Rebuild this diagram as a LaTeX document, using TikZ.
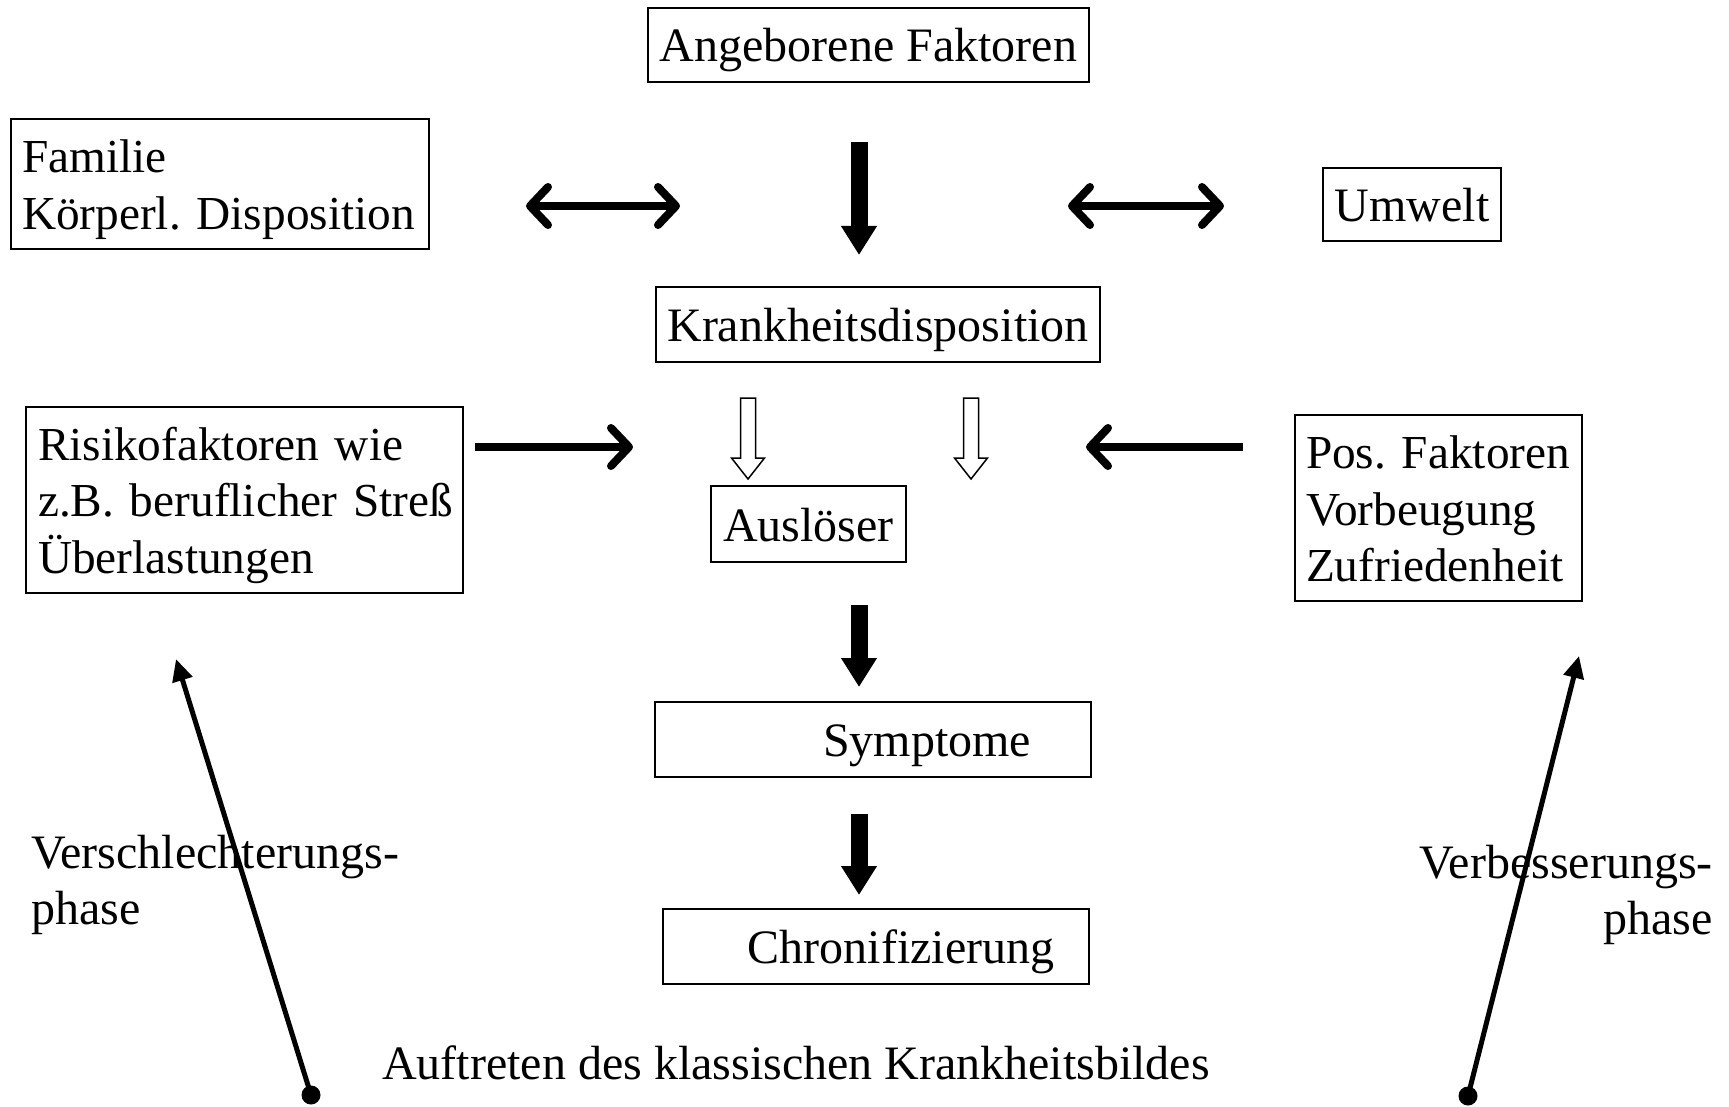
\documentclass[tikz,border=0pt]{standalone}
\usepackage{fontspec}
\setmainfont{Liberation Serif}
\usetikzlibrary{arrows.meta}
\newcommand\mytopstr{\rule{0pt}{44pt}}
\newcommand\mybotstr{\rule[-10pt]{0pt}{10pt}}
\begin{document}
\begin{tikzpicture}[x=1pt,y=-1pt,
  box/.style={draw, line width=1.6pt, inner sep=0pt, font=\fontsize{48}{56.5}\selectfont\frenchspacing},
  boxm/.style={box, align=left, font=\fontsize{47.3}{56.5}\selectfont\frenchspacing},
  one/.style={text height=44pt, text depth=10pt},
  lbl/.style={inner sep=0pt, font=\fontsize{48}{56.5}\selectfont\frenchspacing},
  chevboth/.style={line width=8pt, {Straight Barb[length=18pt,width=38pt,round]}-{Straight Barb[length=18pt,width=38pt,round]}},
  chevone/.style={line width=8pt, -{Straight Barb[length=18pt,width=38pt,round]}},
  bigdown/.style={line width=17pt, -{Triangle[length=29pt,width=34pt]}},
  hollow/.style={draw, line width=1.5pt, fill=white, line join=miter},
  diag/.style={line width=5pt, -{Triangle[length=22pt,width=20pt]}},
  dot/.style={circle, fill=black, inner sep=0pt, minimum size=19pt}
]
\useasboundingbox (0,0) rectangle (1729,1107);

% boxes
\node[box, one, minimum width=441pt, minimum height=74pt] (ang) at (868.5,45) {Angeborene Faktoren};
\node[boxm, minimum width=418pt, minimum height=130pt, text width=396pt] (fam) at (220,184)
  {\mbox{\mytopstr Familie}\\\mbox{Körperl. Disposition\mybotstr}};
\node[box, one, minimum width=178pt, minimum height=73pt] (umw) at (1412,204.5) {Umwelt};
\node[box, one, minimum width=444pt, minimum height=75pt] (kd) at (878,324.5) {Krankheitsdisposition};
\node[boxm, minimum width=437pt, minimum height=186pt, text width=413pt] (risk) at (244.5,500)
  {\mbox{\mytopstr Risikofaktoren wie}\\\mbox{z.B. beruflicher Streß}\\\mbox{Überlastungen\mybotstr}};
\node[box, one, minimum width=195pt, minimum height=76pt] (ausl) at (808.5,524) {Auslöser};
\node[boxm, minimum width=287pt, minimum height=186pt, text width=265pt] (pos) at (1438.5,508)
  {\mbox{\mytopstr Pos. Faktoren}\\\mbox{Vorbeugung}\\\mbox{Zufriedenheit\mybotstr}};
\node[box, one, minimum width=436pt, minimum height=75pt] (sym) at (873,739.5) {\hspace*{108pt}Symptome};
\node[box, one, minimum width=426pt, minimum height=75pt] (chr) at (876,946.5) {\hspace*{50pt}Chronifizierung};

% labels
\node[lbl, anchor=west, align=left] (vs) at (31,885) {Verschlechterungs-\\phase};
\node[lbl, anchor=east, align=right] (vb) at (1713,895) {Verbesserungs-\\phase};
\node[lbl] (auf) at (796,1063) {Auftreten des klassischen Krankheitsbildes};

% coordinates for free-standing arrows
\coordinate (d1a) at (526,206); \coordinate (d1b) at (680,206);
\coordinate (d2a) at (1068,206); \coordinate (d2b) at (1224,206);
\coordinate (t1a) at (859,142); \coordinate (t1b) at (859,255);
\coordinate (t2a) at (859,605); \coordinate (t2b) at (859,687);
\coordinate (t3a) at (859,814); \coordinate (t3b) at (859,895);
\coordinate (ra) at (475,447); \coordinate (rb) at (633,447);
\coordinate (pa) at (1243,447); \coordinate (pb) at (1086,447);
\coordinate (h1) at (748,398); \coordinate (h2) at (971,398);
\node[dot] (dl) at (311,1095) {};
\node[dot] (dr) at (1468,1096) {};
\coordinate (tl) at (176,659); \coordinate (tr) at (1579,656);

% arrows
\draw[chevboth] (d1a) -- (d1b);
\draw[chevboth] (d2a) -- (d2b);
\draw[bigdown] (t1a) -- (t1b);
\draw[bigdown] (t2a) -- (t2b);
\draw[bigdown] (t3a) -- (t3b);
\draw[chevone] (ra) -- (rb);
\draw[chevone] (pa) -- (pb);
\foreach \h in {h1,h2}{
  \draw[hollow] (\h) ++(-7.5,0) -- ++(15,0) -- ++(0,60) -- ++(9,0) -- ++(-16.5,21) -- ++(-16.5,-21) -- ++(9,0) -- cycle;
}
\draw[diag] (dl.center) -- (tl);
\draw[diag] (dr.center) -- (tr);
\end{tikzpicture}
\end{document}
